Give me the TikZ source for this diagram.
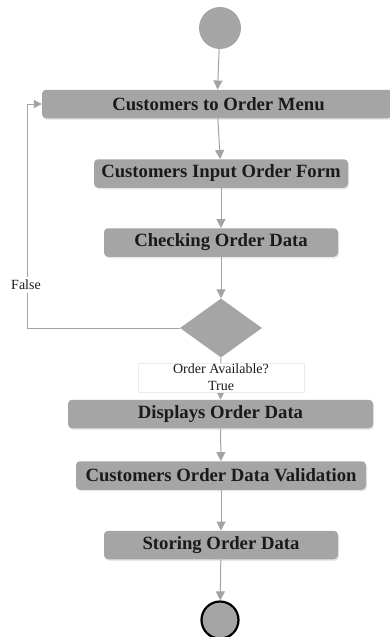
\documentclass[tikz,border=0pt]{standalone}
\usepackage{fontspec}
\setmainfont{Liberation Serif}
\usetikzlibrary{arrows.meta,shapes.geometric,shadows}
\definecolor{actfill}{HTML}{A5A5A5}
\definecolor{linecol}{HTML}{A3A3A3}
\definecolor{txt}{HTML}{1A1A1A}
\begin{document}
\begin{tikzpicture}[x=1pt,y=-1pt,
  act/.style={rectangle,rounded corners=4pt,fill=actfill,draw=none,inner sep=0pt,
    minimum height=28.5pt,text=txt,font=\fontsize{18.7}{21}\selectfont\bfseries,
    drop shadow={opacity=0.18,shadow xshift=1pt,shadow yshift=-1.5pt}},
  flow/.style={draw=linecol,line width=1pt,-{Triangle[length=9pt,width=9pt]},color=linecol},
  lbl/.style={text=txt,font=\fontsize{14}{16}\selectfont}]
\useasboundingbox (0,0) rectangle (390,637);
\fill[white] (0,0) rectangle (390,637);
\node[circle,fill=actfill,minimum size=42pt,inner sep=0pt] (start) at (220,28) {};
\node[act,minimum width=350pt] (b1) at (217,104) {\hspace*{3pt}Customers to Order Menu};
\node[act,minimum width=254pt] (b2) at (221,173.5) {Customers Input Order Form};
\node[act,minimum width=234pt] (b3) at (221,242.5) {Checking Order Data};
\node[diamond,fill=actfill,minimum width=82pt,minimum height=59pt,inner sep=0pt] (dia) at (221,328) {};
\node[act,minimum width=305pt] (b4) at (220.5,414) {Displays Order Data};
\node[act,minimum width=290pt] (b5) at (221,475.5) {Customers Order Data Validation};
\node[act,minimum width=234pt] (b6) at (221,545) {Storing Order Data};
\node[circle,fill=actfill,draw=black,line width=2.2pt,minimum size=37pt,inner sep=0pt] (end) at (220,620) {};
\draw[flow] (start) -- (b1);
\draw[flow] (b1) -- (b2);
\draw[flow] (b2) -- (b3);
\draw[flow] (b3) -- (dia);
\draw[flow] (dia.south) -- (b4.north);
\draw[flow] (b4) -- (b5);
\draw[flow] (b5) -- (b6);
\draw[flow] (b6) -- (end);
\coordinate (lp) at (27,328);
\draw[draw=linecol,line width=1pt,-{Triangle[length=8pt,width=8pt]},color=linecol]
  (dia.west) -- (lp) |- (b1.west);
\node[lbl,fill=white,anchor=center] (false) at (26,285) {False};
\node[draw=black!8,fill=white,minimum width=166pt,minimum height=29pt,inner sep=0pt] (cond) at (221,377.5) {};
\node[lbl] (condt) at (221,369) {Order Available?};
\node[lbl] (truet) at (221,386) {True};
\end{tikzpicture}
\end{document}
